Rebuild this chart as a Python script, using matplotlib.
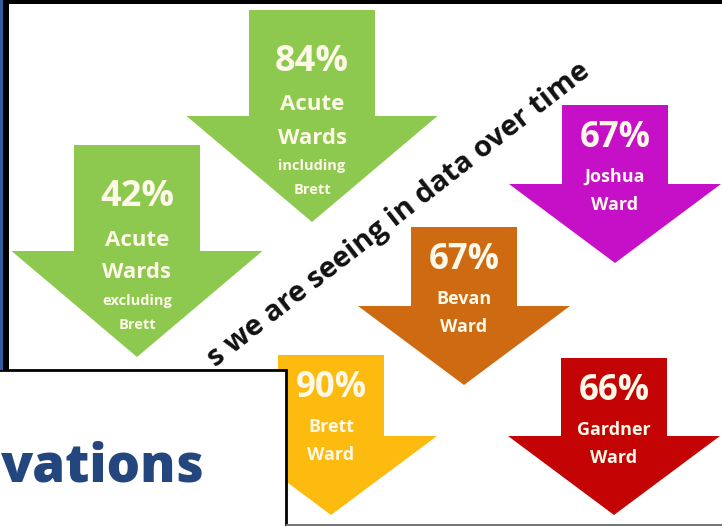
import matplotlib
matplotlib.use("Agg")
import matplotlib.pyplot as plt
from matplotlib.patches import FancyArrow, Rectangle

# --- content ---
pctLabels  = ["84%", "42%", "67%", "67%", "90%", "66%"]
wardLines  = [["Acute", "Wards"], ["Acute", "Wards"], ["Joshua", "Ward"],
              ["Bevan", "Ward"], ["Brett", "Ward"], ["Gardner", "Ward"]]
subLines   = [["including", "Brett"], ["excluding", "Brett"], [], [], [], []]
arrowCols  = ["#8DC94F", "#8DC94F", "#C510C8", "#CE6B12", "#FDBB10", "#C40404"]
diagText   = "s we are seeing in data over time"
boxText    = "vations"

# --- layout (pixels, y down) ---
cx     = [312, 137, 615, 464, 331, 614]
top    = [10, 145, 105, 227, 355, 358]
tip    = [222, 357, 263, 385, 515, 515]
big    = [True, True, False, False, False, False]

txtCol = "#FDF8E8"
fam    = ["Open Sans", "DejaVu Sans"]

fig = plt.figure(figsize=(7.22, 5.26), dpi=100)
ax = fig.add_axes([0, 0, 1, 1])
ax.set_xlim(0, 722)
ax.set_ylim(526, 0)
ax.axis("off")

for i in range(len(pctLabels)):
  if big[i]:
    shaftW, headW, headL = 126, 251, 106
    offP, offW, offS = 52, [95, 128], [156, 180]
    fsP, fsW, fsS = 26, 16, 10.5
  else:
    shaftW, headW, headL = 106, 212, 79
    offP, offW, offS = 33, [72, 100], []
    fsP, fsW, fsS = 25, 13, 10
  ax.add_patch(FancyArrow(cx[i], top[i], 0, tip[i] - top[i], width=shaftW,
                          head_width=headW, head_length=headL,
                          length_includes_head=True, color=arrowCols[i],
                          lw=0, zorder=2))
  ax.text(cx[i], top[i] + offP, pctLabels[i], ha="center", va="center",
          fontsize=fsP, fontweight="bold", color=txtCol, family=fam, zorder=3)
  for s, o in zip(wardLines[i], offW):
    ax.text(cx[i], top[i] + o, s, ha="center", va="center",
            fontsize=fsW, fontweight="bold", color=txtCol, family=fam, zorder=3)
  for s, o in zip(subLines[i], offS):
    ax.text(cx[i], top[i] + o, s, ha="center", va="center",
            fontsize=fsS, fontweight="bold", color=txtCol, family=fam, zorder=3)

ax.text(399, 215, diagText, rotation=38, rotation_mode="anchor",
        ha="center", va="center", fontsize=21, fontweight="bold",
        color="#111111", family=fam, zorder=3)

# overlapping slide piece in the lower left
ax.add_patch(Rectangle((-5, 370), 291, 170, facecolor="white",
                       edgecolor="black", lw=2, zorder=5))
ax.text(205, 482, boxText, ha="right", va="baseline", fontsize=38,
        fontweight="heavy", color="#23467F", family=fam, zorder=6)

# slide frame
ax.add_patch(Rectangle((0, 0), 722, 3.5, facecolor="black", lw=0, zorder=7))
ax.add_patch(Rectangle((0, 0), 2.5, 370, facecolor="#2F5F9F", lw=0, zorder=7))
ax.add_patch(Rectangle((2.5, 0), 6, 370, facecolor="black", lw=0, zorder=7))
ax.add_patch(Rectangle((286, 523.5), 436, 3, facecolor="#777777", lw=0, zorder=7))

fig.savefig("out.png", dpi=100)
